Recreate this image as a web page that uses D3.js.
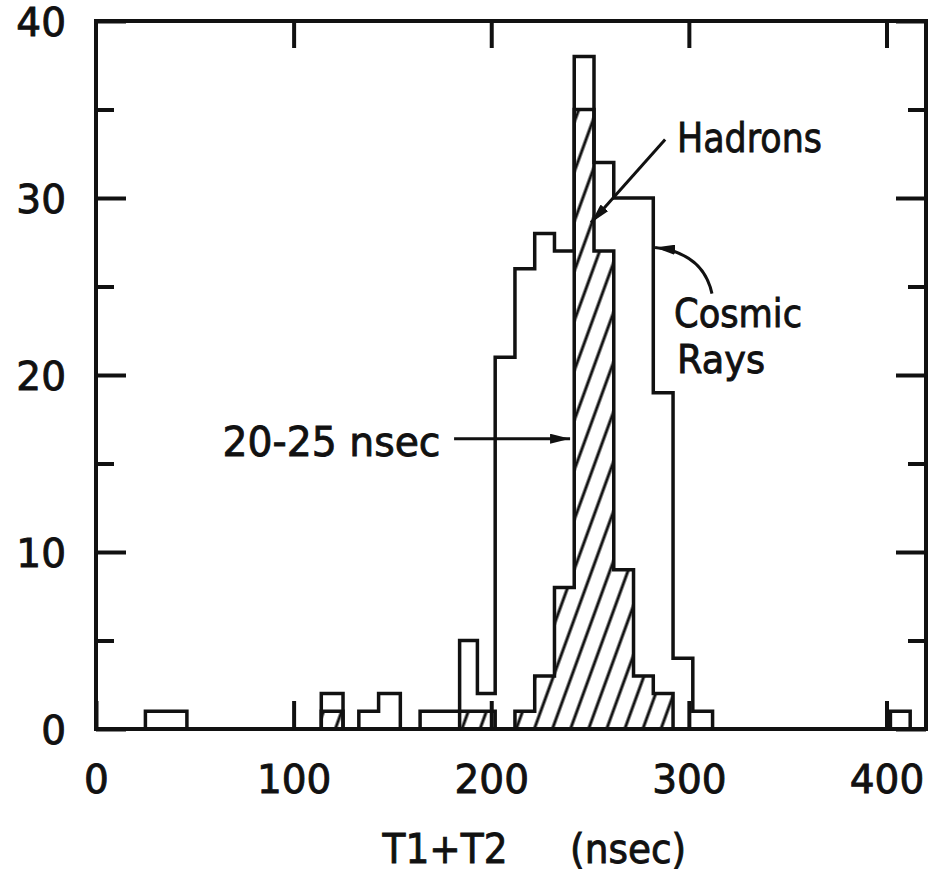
<!DOCTYPE html>
<html>
<head>
<meta charset="utf-8">
<script src="https://cdn.jsdelivr.net/npm/d3@7"></script>
<style>
  body { margin: 0; background: #fff; }
  text { font-family: "DejaVu Sans", sans-serif; fill: #111; stroke: #111; stroke-width: 0.9px; }
</style>
</head>
<body>
<script>
// bin edges (nsec) and counts
var cosmicEdges = [25, 35, 46, 114, 125, 133, 143, 154, 164, 174, 184, 193, 202, 212, 222, 232, 242, 252, 262, 272, 282, 292, 302, 312, 402, 412];
var cosmicCounts = [1, 1, 0, 2, 0, 1, 2, 0, 1, 1, 5, 2, 21, 26, 28, 27, 38, 32, 30, 30, 19, 4, 1, 0, 1];

var hadronEdges = [114, 125, 184, 193, 202, 212, 222, 232, 242, 252, 262, 272, 282, 292];
var hadronCounts = [1, 0, 1, 1, 0, 1, 3, 8, 35, 27, 9, 3, 2];

var xTicks = [0, 100, 200, 300, 400];
var yMajor = [0, 10, 20, 30, 40];
var yMinor = [5, 15, 25, 35];

// set the dimensions and margins of the graph
var margin = {top: 21, right: 5, bottom: 146, left: 96},
    width = 931 - margin.left - margin.right,
    height = 875 - margin.top - margin.bottom;

var x = d3.scaleLinear().domain([0, 420]).range([0, width]);
var y = d3.scaleLinear().domain([0, 40]).range([height, 0]);

var svg = d3.select("body").append("svg")
    .attr("width", 931)
    .attr("height", 875)
  .append("g")
    .attr("transform", "translate(" + margin.left + "," + margin.top + ")");

var ink = "#111";

var defs = svg.append("defs");
defs.append("pattern")
    .attr("id", "hatch")
    .attr("patternUnits", "userSpaceOnUse")
    .attr("width", 17).attr("height", 17)
    .attr("patternTransform", "rotate(20)")
  .append("line")
    .attr("x1", 8).attr("y1", 0).attr("x2", 8).attr("y2", 17)
    .style("stroke", ink).style("stroke-width", 3);

defs.append("marker")
    .attr("id", "head")
    .attr("viewBox", "0 -5 20 10")
    .attr("refX", 20).attr("refY", 0)
    .attr("markerWidth", 20).attr("markerHeight", 10)
    .attr("markerUnits", "userSpaceOnUse")
    .attr("orient", "auto")
  .append("path")
    .attr("d", "M0,-5L20,0L0,5Z")
    .style("fill", ink);

// outline points of a histogram
let stepPoints = (edges, counts) => {
    let pts = [[edges[0], 0]];
    counts.forEach((c, i) => {
        pts.push([edges[i], c]);
        pts.push([edges[i + 1], c]);
    });
    pts.push([edges[edges.length - 1], 0]);
    return pts;
};

var line = d3.line().x(d => x(d[0])).y(d => y(d[1]));

// hatched hadrons
var hadronPts = stepPoints(hadronEdges, hadronCounts);
svg.append("path")
    .attr("d", line(hadronPts) + "Z")
    .style("fill", "url(#hatch)")
    .style("stroke", "none");
svg.append("path")
    .attr("d", line(hadronPts))
    .style("fill", "none")
    .style("stroke", ink)
    .style("stroke-width", 3.5);

// open cosmic rays histogram
svg.append("path")
    .attr("d", line(stepPoints(cosmicEdges, cosmicCounts)))
    .style("fill", "none")
    .style("stroke", ink)
    .style("stroke-width", 3.5);

// frame
svg.append("rect")
    .attr("width", width).attr("height", height)
    .style("fill", "none").style("stroke", ink).style("stroke-width", 4);

// axes with inward ticks
let styleAxis = (g) => {
    g.select(".domain").remove();
    g.selectAll("line").style("stroke", ink).style("stroke-width", 4);
    g.selectAll("text").style("font-size", "39px").style("fill", ink)
        .style("font-family", "DejaVu Sans, sans-serif");
};

svg.append("g")
    .attr("transform", "translate(0,2)")
    .call(d3.axisLeft(y).tickValues(yMajor).tickSize(-30).tickPadding(30))
    .call(styleAxis)
    .selectAll("line").attr("transform", "translate(0,-2)");
svg.append("g")
    .call(d3.axisLeft(y).tickValues(yMinor).tickSize(-18).tickFormat(""))
    .call(styleAxis);
svg.append("g")
    .attr("transform", "translate(" + width + ",0)")
    .call(d3.axisRight(y).tickValues(yMajor).tickSize(-30).tickFormat(""))
    .call(styleAxis);
svg.append("g")
    .attr("transform", "translate(" + width + ",0)")
    .call(d3.axisRight(y).tickValues(yMinor).tickSize(-18).tickFormat(""))
    .call(styleAxis);
svg.append("g")
    .attr("transform", "translate(0," + height + ")")
    .call(d3.axisBottom(x).tickValues(xTicks).tickSize(-28).tickPadding(36))
    .call(styleAxis);
svg.append("g")
    .call(d3.axisTop(x).tickValues(xTicks.slice(1)).tickSize(-27).tickFormat(""))
    .call(styleAxis);

// axis title
svg.append("text")
    .attr("x", x(145)).attr("y", height + 134)
    .attr("textLength", 125).attr("lengthAdjust", "spacingAndGlyphs")
    .style("font-size", "40px")
    .text("T1+T2");
svg.append("text")
    .attr("x", x(239.9)).attr("y", height + 134)
    .attr("textLength", 116).attr("lengthAdjust", "spacingAndGlyphs")
    .style("font-size", "40px")
    .text("(nsec)");

// annotations
let label = (tx, ty, txt, len, size) => svg.append("text")
    .attr("x", x(tx)).attr("y", y(ty))
    .attr("textLength", len).attr("lengthAdjust", "spacingAndGlyphs")
    .style("font-size", (size || 41) + "px")
    .text(txt);

let arrow = (d) => svg.append("path")
    .attr("d", d)
    .style("fill", "none").style("stroke", ink).style("stroke-width", 3)
    .attr("marker-end", "url(#head)");

label(294, 32.6, "Hadrons", 145);
arrow("M" + x(288) + "," + y(33.3) + "L" + x(250.5) + "," + y(28.6));

label(292.5, 22.7, "Cosmic", 128, 39);
label(294, 20.1, "Rays", 88, 39);
arrow("M" + x(311.7) + "," + y(24.6) + "Q" + x(307.2) + "," + y(26.9) + " " + x(282.9) + "," + y(27.2));

label(64, 15.4, "20-25 nsec", 218);
arrow("M" + x(181.2) + "," + y(16.4) + "L" + x(239.9) + "," + y(16.4));
</script>
</body>
</html>
